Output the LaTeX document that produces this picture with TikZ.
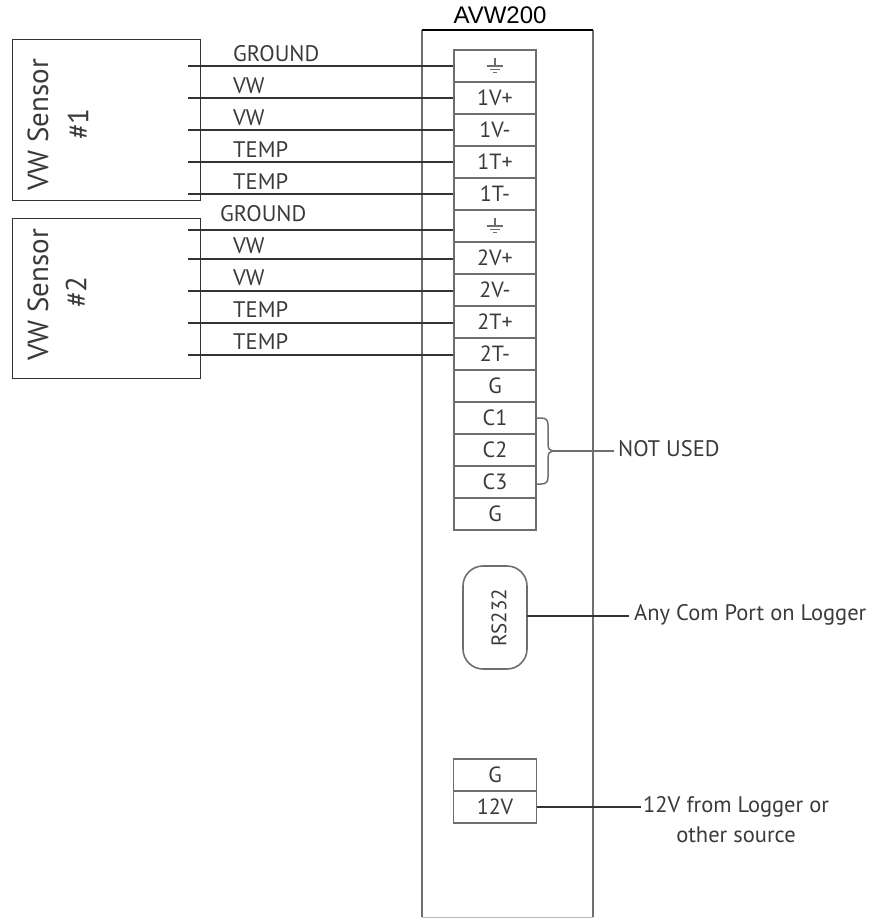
\documentclass[tikz,border=0pt]{standalone}
\usepackage{fontspec}
\setmainfont{PT Sans}
\newfontfamily\arialfont{Liberation Sans}
\definecolor{txt}{HTML}{3A3A3A}
\definecolor{edge}{HTML}{6E6E6E}
\definecolor{wire}{HTML}{333333}
\tikzset{
  x=1pt,y=-1pt,
  cell/.style={draw=edge,line width=1.6pt,minimum width=82pt,minimum height=32pt,inner sep=0pt,text=txt,font=\fontsize{22}{22}\selectfont},
  sensorbox/.style={draw=wire,line width=1.3pt,minimum width=188pt,inner sep=0pt,anchor=north west},
  wirel/.style={draw=wire,line width=1.3pt},
  lab/.style={text=txt,inner sep=0pt,font=\fontsize{22.5}{24}\selectfont},
  big/.style={text=txt,inner sep=0pt,rotate=90,font=\fontsize{29}{29}\selectfont},
  gnd/.style={draw=edge,line width=1.6pt},
}
\newcommand{\gsym}[1]{%
  \draw[gnd] ([yshift=8pt]#1.center) -- ([yshift=0pt]#1.center);
  \draw[gnd] ([xshift=-8pt]#1.center) -- ([xshift=8pt]#1.center);
  \draw[gnd] ([xshift=-5pt,yshift=-3.5pt]#1.center) -- ([xshift=5pt,yshift=-3.5pt]#1.center);
  \draw[gnd] ([xshift=-2pt,yshift=-6.5pt]#1.center) -- ([xshift=2pt,yshift=-6.5pt]#1.center);
}
\begin{document}
\begin{tikzpicture}
\useasboundingbox (0,0) rectangle (881,918);
% AVW200 enclosure
\node[draw=none,inner sep=0pt,minimum width=171.5pt,minimum height=887pt,anchor=north west] (avw) at (421.5,30) {};
\draw[draw=edge,line width=2pt] (avw.south west) -- (avw.north west);
\draw[draw=edge,line width=2pt] (avw.south east) -- (avw.north east);
\draw[draw=black,line width=1.3pt] (avw.north west) -- (avw.north east);
\draw[draw=edge!50,line width=1pt] (avw.south west) -- (avw.south east);
\node[inner sep=0pt,font=\arialfont\fontsize{24}{24}\selectfont,text=black] (title) at (500,15) {AVW200};
% Terminal strip
\foreach \n/\t/\y in {a//66,b/1V+/98,c/1V-/130,d/1T+/162,e/1T-/194,f//226,g/2V+/258,h/2V-/290,i/2T+/322,j/2T-/354,k/G/386,l/C1/418,m/C2/450,n/C3/482,o/G/514}{
  \node[cell] (\n) at (495,\y) {\t};
}
\gsym{a}
\gsym{f}
% Sensors
\node[sensorbox,minimum height=161pt] (s1) at (12,39) {};
\node[sensorbox,minimum height=160pt] (s2) at (12,218) {};
\node[big] (s1a) at (38,125) {VW Sensor};
\node[big] (s1b) at (78,124) {\#1};
\node[big] (s2a) at (38,295) {VW Sensor};
\node[big] (s2b) at (76,292) {\#2};
% Wires
\foreach \n/\y in {a/66,b/98,c/130,d/162,e/194,f/230,g/259,h/291,i/323,j/355}{
  \coordinate (w\n) at (188,\y);
  \draw[wirel] (w\n) -- (w\n -| \n.west);
}
% Wire labels
\node[lab,anchor=west] (l1) at (233,54) {GROUND};
\node[lab,anchor=west] (l2) at (233,86) {VW};
\node[lab,anchor=west] (l3) at (233,118) {VW};
\node[lab,anchor=west] (l4) at (233,150) {TEMP};
\node[lab,anchor=west] (l5) at (233,182) {TEMP};
\node[lab,anchor=west] (l6) at (220,214) {GROUND};
\node[lab,anchor=west] (l7) at (233,246) {VW};
\node[lab,anchor=west] (l8) at (233,278) {VW};
\node[lab,anchor=west] (l9) at (233,310) {TEMP};
\node[lab,anchor=west] (l10) at (233,342) {TEMP};
% Brace
\node[lab,anchor=west] (nu) at (618,449) {NOT USED};
\coordinate (bt) at (536,418);
\coordinate (bb) at (536,484);
\coordinate (tip) at (553,451);
\coordinate (nuend) at (614,451);
\draw[draw=edge,line width=1.5pt] (bt) -- (541,418) .. controls (546,418) and (548,420) .. (548,425)
  -- (548,444) .. controls (548,449) and (550,451) .. (tip)
  .. controls (550,451) and (548,453) .. (548,458) -- (548,477)
  .. controls (548,482) and (546,484) .. (541,484) -- (bb);
\draw[draw=edge,line width=1.5pt] (tip) -- (nuend);
% RS232
\node[draw=edge,line width=1.6pt,rounded corners=20pt,minimum width=64pt,minimum height=103pt,inner sep=0pt] (rs) at (495,617.5) {};
\node[text=txt,inner sep=0pt,rotate=90,font=\fontsize{21}{21}\selectfont] (rst) at (499,618) {RS232};
\node[lab,anchor=west] (com) at (634,615) {Any Com Port on Logger};
\coordinate (rsa) at (527,616);
\coordinate (rsb) at (629,616);
\draw[wirel] (rsa) -- (rsb);
% Power
\node[cell,minimum width=83pt,minimum height=32pt] (pg) at (495,775) {G};
\node[cell,minimum width=83pt,minimum height=32pt] (pv) at (495,807) {12V};
\node[lab,anchor=west] (p1) at (643,807) {12V from Logger or};
\node[lab] (p2) at (736,835) {other source};
\coordinate (pend) at (641,807);
\draw[wirel] (pv.east) -- (pend);
\end{tikzpicture}
\end{document}
